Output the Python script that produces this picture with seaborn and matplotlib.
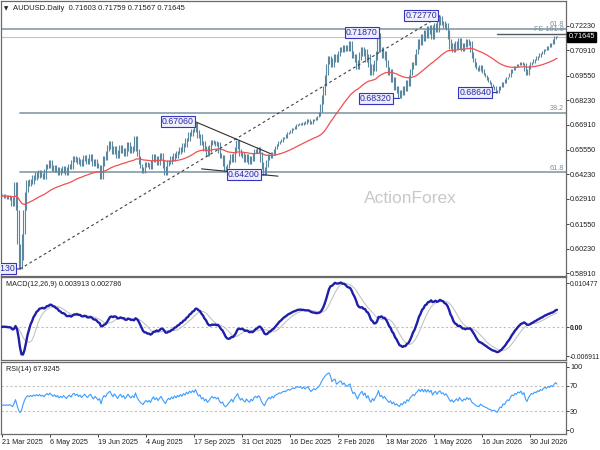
import numpy as np
import pandas as pd
import matplotlib
matplotlib.use("Agg")
import matplotlib.pyplot as plt
import matplotlib.transforms as mtransforms
import seaborn as sns

# ---------------- data ----------------
close_pips = [
    6305, 6318, 6296, 6312, 6290, 6308, 6285, 6250, 6300,
    6380,
    6230, 6050, 5913, 5960, 6100, 6230, 6330,
    6390, 6360, 6400, 6370,
    6420, 6395, 6435, 6405, 6445, 6410, 6430, 6400,
    6450, 6480, 6455, 6500, 6470, 6440, 6475,
    6435, 6465, 6420, 6455, 6430, 6470, 6445, 6420, 6460, 6480, 6450, 6500, 6520,
    6490, 6515, 6480, 6505, 6470, 6495, 6525, 6500, 6480, 6510, 6530, 6495, 6470, 6505, 6485, 6455, 6475,
    6400,
    6470, 6520, 6500, 6550, 6580, 6600,
    6560, 6530, 6575, 6545, 6510, 6555, 6580, 6540, 6565, 6520, 6550, 6595, 6560,
    6540, 6575, 6550,
    6630,
    6560, 6520, 6480, 6455, 6430, 6465,
    6490, 6460, 6485, 6450,
    6500, 6535, 6490, 6520, 6475, 6510, 6540, 6500, 6455, 6420,
    6470, 6500, 6480, 6520, 6495, 6540, 6510, 6550, 6530, 6570, 6545,
    6590, 6570, 6620, 6600, 6650, 6630, 6670, 6650,
    6706,
    6660, 6620, 6640, 6580, 6600, 6550, 6575, 6520, 6545,
    6580, 6610, 6585, 6600, 6575, 6595,
    6540, 6510, 6525,
    6470, 6440, 6455, 6480,
    6500, 6530, 6490, 6540, 6570, 6610, 6560, 6520, 6545,
    6510, 6490, 6530, 6500, 6480, 6520, 6495, 6540,
    6560, 6540, 6570, 6545,
    6490, 6450, 6420, 6465,
    6500, 6530, 6510, 6545, 6525, 6560,
    6575, 6585, 6600, 6595, 6615, 6625, 6620, 6640, 6650, 6645, 6660, 6675, 6670, 6685, 6695, 6690,
    6700, 6690, 6705, 6695, 6710, 6720, 6705, 6695, 6710, 6720, 6715, 6730, 6740, 6760,
    6800, 6850, 6900, 6960, 7020, 7060,
    7040, 7000, 7050, 7070, 7030,
    7060, 7090, 7110, 7080, 7120, 7100, 7090, 7120, 7140,
    7090, 7050, 7070, 7030, 6990, 7040,
    7080, 7110, 7060, 7100, 7030, 7070, 7000,
    6960, 7020, 6980, 7040, 7090,
    7187,
    7080, 7110, 7050, 7090, 7040,
    7000, 6960, 6990, 6920, 6950, 6880,
    6900, 6860, 6832, 6880, 6850, 6900,
    6870, 6930, 6900, 6960,
    6990, 7030, 7010, 7070, 7100,
    7150, 7120, 7180, 7140, 7200, 7160,
    7220, 7180, 7230, 7150, 7210, 7240, 7190, 7250,
    7277,
    7230, 7250, 7210, 7240, 7200,
    7150, 7100, 7130, 7080, 7110,
    7140, 7100, 7160, 7120, 7090, 7130, 7110,
    7150, 7120, 7140,
    7080, 7050, 7030, 7000,
    6990, 6980, 7010, 6990, 6970, 6960,
    6950, 6930, 6920,
    6910, 6895, 6900, 6880, 6864,
    6880, 6900, 6895, 6920, 6915, 6935, 6950, 6945, 6970,
    6990, 6985, 7005, 7000, 7020,
    7015, 7030, 7010, 7025,
    6980, 6960, 6990,
    7010, 7030, 7025, 7045, 7040, 7060, 7055, 7075, 7070, 7090,
    7100, 7095, 7115, 7110,
    7130, 7125, 7150, 7170, 7164.5,
]

date_labels = ["21 Mar 2025", "6 May 2025", "19 Jun 2025", "4 Aug 2025",
               "17 Sep 2025", "31 Oct 2025", "16 Dec 2025", "2 Feb 2026",
               "18 Mar 2026", "1 May 2026", "16 Jun 2026", "30 Jul 2026"]
date_bar_index = [0, 32, 64, 96, 128, 160, 192, 224, 256, 288, 320, 352]

price_ticks = [0.72230, 0.70910, 0.69550, 0.68230, 0.66910, 0.65550,
               0.64230, 0.62910, 0.61550, 0.60230, 0.58910]
macd_ticks = [0.010477, 0.0, -0.006911]
macd_tick_labels = ["0.010477", "0.00", "-0.006911"]
rsi_ticks = [100, 70, 30, 0]

header_ohlc = [0.71603, 0.71759, 0.71567, 0.71645]
macd_last = [0.003913, 0.002786]
rsi_last = 67.9245

swing_idx = [12, 129, 175, 251, 265, 292, 330]
swing_price = [0.59130, 0.67060, 0.64200, 0.71870, 0.68320, 0.72770, 0.68640]

fib_levels = [0.7204, 0.6756, 0.6435]
fib_names = ["61.8", "38.2", "61.8"]
fib_start = [None, 12, 12]
fe_level = 0.7180
fe_name = "FE 161.8"
fe_start = 330

trend_dash = [12, 292]            # swing low -> swing high
trend_down = [129, 157, 179]      # peak, touch, end
trend_low = [149, 175, 133, 184]  # two lows, start, end

# ---------------- derived series ----------------
close = np.array(close_pips, dtype=float) / 10000.0
n = len(close)
idx = np.arange(n)
s = pd.Series(close)
hi = s.rolling(3, center=True, min_periods=1).max().values
lo = s.rolling(3, center=True, min_periods=1).min().values

ma = s.ewm(span=55, adjust=False).mean().values
ema12 = s.ewm(span=12, adjust=False).mean()
ema26 = s.ewm(span=26, adjust=False).mean()
macd = (ema12 - ema26)
signal = macd.rolling(9, min_periods=1).mean()
delta = s.diff()
gain = delta.clip(lower=0)
loss = -delta.clip(upper=0)
gain.iloc[0] = gain.iloc[1:15].mean()
loss.iloc[0] = loss.iloc[1:15].mean()
ag = gain.ewm(alpha=1 / 14, adjust=False).mean()
al = loss.ewm(alpha=1 / 14, adjust=False).mean()
rsi = (100 - 100 / (1 + ag / al)).values

# ---------------- style ----------------
sns.set_theme(style="white")
plt.rcParams['font.family'] = ['Liberation Sans Narrow', 'Liberation Sans', 'DejaVu Sans']

BAR = "#5b88a0"
MA_C = "#f05050"
FIB = "#8fa3ad"
LBL_EC = "#3535c0"
LBL_TX = "#2a2aa0"
SPINE = "#6a6a6a"
FS = 5.2

fig = plt.figure(figsize=(6, 4.5), dpi=100)
fig.patch.set_facecolor("white")
ax1 = fig.add_axes([1 / 600, (450 - 276) / 450, 565 / 600, 275 / 450])
ax2 = fig.add_axes([1 / 600, (450 - 360) / 450, 565 / 600, 83 / 450])
ax3 = fig.add_axes([1 / 600, (450 - 434) / 450, 565 / 600, 72 / 450])

xl = (-0.67, 376)
for ax in (ax1, ax2, ax3):
    ax.set_xlim(*xl)
    ax.set_facecolor("white")
    for sp in ax.spines.values():
        sp.set_color(SPINE)
        sp.set_linewidth(0.9)
    ax.yaxis.tick_right()
    ax.tick_params(axis='y', which='both', right=True, left=False, length=2,
                   width=0.6, pad=1.0, labelsize=FS, colors="#202020")
    ax.tick_params(axis='x', bottom=False, labelbottom=False)
    ax.grid(False)

# ---- main panel ----
ax1.set_ylim(0.58749, 0.73573)
ax1.set_yticks(price_ticks)
ax1.set_yticklabels([f"{v:.5f}" for v in price_ticks])

# fib levels
fib_dy = [0.0006, 0.0002, 0.0002]
for lvl, name, st, dy in zip(fib_levels, fib_names, fib_start, fib_dy):
    x0 = xl[0] if st is None else st
    ax1.plot([x0, xl[1]], [lvl, lvl], color=FIB, lw=1.3, zorder=1)
    ax1.text(xl[1] - 1.5, lvl + dy, name, ha='right', va='bottom', fontsize=FS,
             color="#7a909c", zorder=2)
ax1.plot([fe_start, xl[1]], [fe_level, fe_level], color="#505a60", lw=1.0, zorder=1)
ax1.text(xl[1] - 1.5, fe_level + 0.0003, fe_name, ha='right', va='bottom',
         fontsize=FS, color="#7a909c", zorder=2)

# bid line
ax1.axhline(close[-1], color="#c4c4c4", lw=0.8, zorder=1)

# bars
ax1.vlines(idx, lo, hi, color=BAR, lw=0.8, zorder=3)

# moving average
sns.lineplot(x=idx, y=ma, ax=ax1, color=MA_C, lw=0.9, legend=False, zorder=4)

# dashed trend line
i0, i1 = trend_dash
ax1.plot([i0, i1], [close[i0], close[i1]], color="#404040", lw=0.8,
         ls=(0, (2.5, 2.5)), zorder=5)
# descending line
p, t, e = trend_down
slope = (close[t] - close[p]) / (t - p)
ax1.plot([p, e], [close[p], close[p] + slope * (e - p)], color="#303030", lw=0.8, zorder=5)
# lower line
a, b, st, en = trend_low
slope2 = (close[b] - close[a]) / (b - a)
ax1.plot([st, en], [close[a] + slope2 * (st - a), close[a] + slope2 * (en - a)],
         color="#303030", lw=0.8, zorder=5)

# swing labels
lbl_off_px = [-5, -2, -5, -1, -8, -3, -6]
for i, pr, off in zip(swing_idx, swing_price, lbl_off_px):
    ax1.annotate(f"{pr:.5f}", xy=(i, pr), xytext=(off * 0.72, 0),
                 textcoords='offset points', ha='right', va='center',
                 fontsize=6.3, color=LBL_TX, family=['Liberation Sans', 'DejaVu Sans'],
                 bbox=dict(boxstyle='square,pad=0.12', fc='#eeeeff', ec=LBL_EC, lw=0.8),
                 arrowprops=dict(arrowstyle='-', color=LBL_EC, lw=0.8,
                                 shrinkA=0, shrinkB=0),
                 annotation_clip=False, clip_on=True, zorder=6)

# current price box
trans = mtransforms.blended_transform_factory(ax1.transAxes, ax1.transData)
ax1.text(1.004, close[-1], f"{close[-1]:.5f}", transform=trans, ha='left', va='center',
         fontsize=FS, color="white",
         bbox=dict(boxstyle='square,pad=0.2', fc='black', ec='black'), clip_on=False, zorder=10)

# header
ax1.text(0.006, 0.972, "\u25bc", transform=ax1.transAxes, fontsize=4, va='center',
         ha='left', color="#202020", family=['DejaVu Sans'])
ax1.text(0.022, 0.972, "AUDUSD.Daily  " + " ".join(f"{v:.5f}" for v in header_ohlc),
         transform=ax1.transAxes, fontsize=FS + 0.3, va='center', ha='left', color="#202020")

# watermark
ax1.text(0.724, 0.28, "ActionForex", transform=ax1.transAxes, fontsize=12.5,
         color="#c8c8c8", ha='center', va='center', family=['Liberation Sans', 'DejaVu Sans'],
         zorder=0)

# ---- MACD panel ----
ax2.set_ylim(-0.00786, 0.01191)
ax2.axhline(0, color="#c0c0c0", lw=0.8, ls=(0, (2, 2)), zorder=1)
sns.lineplot(x=idx, y=signal.values, ax=ax2, color="#c4c4c4", lw=0.8, legend=False, zorder=2)
sns.lineplot(x=idx, y=macd.values, ax=ax2, color="#1e1eaa", lw=1.7, legend=False, zorder=3)
ax2.set_yticks(macd_ticks)
ax2.set_yticklabels(macd_tick_labels)
ax2.tick_params(axis='y', labelsize=4.9)
for lab in ax2.get_yticklabels():
    if lab.get_text() == "0.00":
        lab.set_fontweight('bold')
ax2.text(0.008, 0.915, f"MACD(12,26,9) {macd_last[0]:.6f} {macd_last[1]:.6f}",
         transform=ax2.transAxes, fontsize=FS, va='center', ha='left', color="#202020")

# ---- RSI panel ----
ax3.set_ylim(-6.3, 107.9)
for lv in (70, 30):
    ax3.axhline(lv, color="#c0c0c0", lw=0.8, ls=(0, (2, 2)), zorder=1)
sns.lineplot(x=idx, y=rsi, ax=ax3, color="#3d9cff", lw=0.8, legend=False, zorder=3)
ax3.set_yticks(rsi_ticks)
ax3.set_yticklabels([str(v) for v in rsi_ticks])
ax3.text(0.008, 0.90, f"RSI(14) {rsi_last:.4f}", transform=ax3.transAxes,
         fontsize=FS, va='center', ha='left', color="#202020")
ax3.set_xticks(date_bar_index)
ax3.set_xticklabels(date_labels, ha='left')
ax3.tick_params(axis='x', bottom=True, labelbottom=True, length=2, width=0.6,
                pad=1.5, labelsize=FS, colors="#202020")

for ax in (ax1, ax2, ax3):
    ax.set_xlabel("")
    ax.set_ylabel("")

fig.savefig("out.png", dpi=100, facecolor="white")
